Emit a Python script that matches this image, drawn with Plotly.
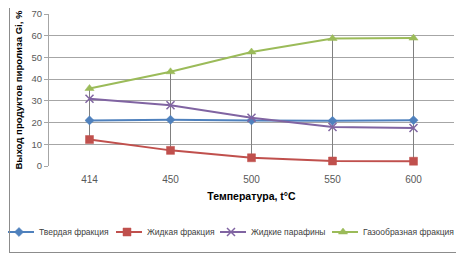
import plotly.graph_objects as go

categories = ["414", "450", "500", "550", "600"]
solid = [21.0, 21.3, 21.0, 20.8, 21.1]
liquid = [12.2, 7.2, 3.8, 2.3, 2.2]
paraffin = [31.0, 28.0, 22.2, 18.0, 17.5]
gas = [35.7, 43.4, 52.5, 58.7, 58.9]

names = ["Твердая фракция", "Жидкая фракция", "Жидкие парафины", "Газообразная фракция"]
series = [solid, liquid, paraffin, gas]
colors = ["#4F81BD", "#C0504D", "#8064A2", "#9BBB59"]
symbols = ["diamond", "square", "x-thin", "triangle-up"]
sizes = [7, 8, 8, 8]
legend_ids = ["legend", "legend2", "legend3", "legend4"]

# page body has an 8px margin: figure is drawn 8px in from the window's corner
W, H = 456, 247
L, R, T, B = 41, 10, 6, 89
legend_x = [0, 108, 212, 324]  # figure-pixel positions of legend boxes
legend_y = 224

fig = go.Figure()

# high-low lines
hx, hy = [], []
for i, c in enumerate(categories):
    vals = [s[i] for s in series]
    hx += [c, c, None]
    hy += [min(vals), max(vals), None]
fig.add_trace(go.Scatter(x=hx, y=hy, mode="lines", line=dict(color="#808080", width=1),
                         showlegend=False, hoverinfo="skip"))

for name, s, col, sym, sz, lg in zip(names, series, colors, symbols, sizes, legend_ids):
    fig.add_trace(go.Scatter(
        x=categories, y=s, name=name, mode="lines+markers", legend=lg,
        line=dict(color=col, width=2),
        marker=dict(symbol=sym, size=sz, color=col,
                    line=dict(color=col, width=1.5 if sym == "x-thin" else 0.5)),
    ))

font_family = "Liberation Sans, Arial"
legend_common = dict(orientation="h", xref="container", yref="container", xanchor="left",
                     yanchor="middle", font=dict(size=8.5, color="#404040", family=font_family),
                     itemwidth=30, indentation=-9, bgcolor="rgba(0,0,0,0)", borderwidth=0)
layout_legends = {}
for lg, lx in zip(legend_ids, legend_x):
    layout_legends[lg] = dict(legend_common, x=lx / W, y=1 - legend_y / H)

fig.update_layout(
    width=W, height=H,
    margin=dict(l=L, r=R, t=T, b=B, autoexpand=False),
    paper_bgcolor="white", plot_bgcolor="white",
    font=dict(family=font_family, size=10, color="#595959"),
    showlegend=True,
    xaxis=dict(type="category", range=[-0.5, len(categories) - 0.5],
               showgrid=False, showline=False, ticks="outside", ticklen=4,
               tickcolor="rgba(0,0,0,0)", automargin=False,
               title=dict(text="<b>Температура, t°C</b>", font=dict(size=10.5, color="#000000"), standoff=8),
               tickfont=dict(size=10, color="#595959")),
    yaxis=dict(range=[0, 70], dtick=10, showgrid=True, gridcolor="#A6A6A6", gridwidth=1,
               showline=True, linecolor="#A6A6A6", ticks="outside", ticklen=4, tickcolor="#A6A6A6",
               zeroline=False, automargin=False, ticklabeloverflow="allow",
               title=dict(text="<b>Выход продуктов пиролиза Gi, %</b>", font=dict(size=9.6, color="#000000"), standoff=7),
               tickfont=dict(size=9.5, color="#595959")),
    **layout_legends,
)

# outer border of the chart, drawn as an empty framed annotation box
pw, ph = W - L - R, H - T - B
box_left, box_right, box_top, box_bottom = 1, 453, -12, 245  # figure pixels
fig.add_annotation(
    text=" ", showarrow=False, xref="paper", yref="paper",
    x=((box_left + box_right) / 2 - L) / pw, y=1 - ((box_top + box_bottom) / 2 - T) / ph,
    xanchor="center", yanchor="middle",
    width=box_right - box_left - 2, height=box_bottom - box_top - 2,
    borderpad=0, borderwidth=1, bordercolor="#8C8C8C", bgcolor="rgba(0,0,0,0)",
)

fig.write_html("out.html")
